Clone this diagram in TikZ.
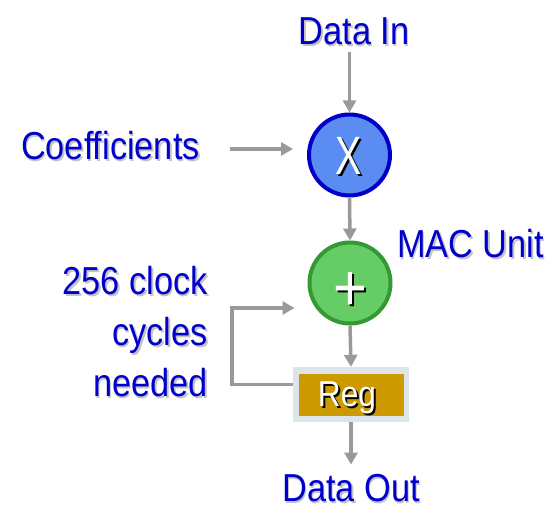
\documentclass[tikz,border=0pt]{standalone}
\usepackage{fontspec}
\setmainfont[FakeStretch=0.88]{Liberation Sans}
\usetikzlibrary{arrows.meta}
\definecolor{txtblue}{HTML}{0000CC}
\definecolor{shgray}{HTML}{C4C4C4}
\definecolor{arrgray}{HTML}{9A9A9A}
\definecolor{mulfill}{HTML}{5A8CF2}
\definecolor{mulline}{HTML}{0000C8}
\definecolor{addfill}{HTML}{66CC66}
\definecolor{addline}{HTML}{339933}
\definecolor{regout}{HTML}{DCE6EA}
\definecolor{reggold}{HTML}{CC9900}
\newcommand\stxt[4]{%
  \node[#1, text=shgray] at ([shift={(1.5pt,-1.5pt)}]#3) {#4};
  \node[#1, text=txtblue] (#2) at (#3) {#4};}
\newcommand\wtxt[4]{%
  \node[#1, text=black] at ([shift={(2pt,-2pt)}]#3) {#4};
  \node[#1, text=white] (#2) at (#3) {#4};}
\tikzset{
  lbl/.style={inner sep=0pt, font=\fontsize{39}{51}\selectfont},
  arr/.style={draw=arrgray, line width=3.5pt, line join=miter,
    -{Triangle[width=13pt,length=12pt]}},
  opcircle/.style={circle, minimum size=81pt, inner sep=0pt, line width=4pt},
}
\begin{document}
\begin{tikzpicture}[x=1pt,y=-1pt]
\useasboundingbox (0,0) rectangle (552,510);
% labels
\stxt{lbl, anchor=base}{din}{354,45}{Data In}
\stxt{lbl, anchor=base east}{coef}{200,160}{Coefficients}
\stxt{lbl, anchor=base west}{mac}{397,258}{MAC Unit}
\stxt{lbl, anchor=base east}{cyca}{208,295}{256 clock}
\stxt{lbl, anchor=base east}{cycb}{208,346}{cycles}
\stxt{lbl, anchor=base east}{cycc}{208,397}{needed}
\stxt{lbl, anchor=base}{dout}{351,502}{Data Out}
% operators
\node[opcircle, draw=mulline, fill=mulfill] (mul) at (349.5,155) {};
\node[opcircle, draw=addline, fill=addfill] (add) at (350,283) {};
\wtxt{inner sep=0pt, font=\fontsize{54}{54}\selectfont}{mulx}{349,156}{\scalebox{0.83}[1]{X}}
\wtxt{inner sep=0pt, font=\fontsize{66}{66}\selectfont}{addp}{350,291}{+}
% register
\node[fill=regout, minimum width=116pt, minimum height=55pt, inner sep=0pt] (reg) at (351,394.5) {};
\node[fill=reggold, minimum width=105pt, minimum height=42pt, inner sep=0pt] (regin) at (351.5,395) {};
\wtxt{inner sep=0pt, font=\fontsize{36}{36}\selectfont}{regt}{347,398}{Reg}
% connectors
\draw[arr, shorten <=6pt] (din.south -| mul.north) -- (mul.north);
\draw[arr, shorten <=30pt, shorten >=14pt] ([yshift=6pt]mul.west -| coef.east) -- ([yshift=6pt]mul.west);
\draw[arr] (mul.south) -- (add.north);
\draw[arr] (add.south) -- (reg.north);
\draw[arr] ([yshift=10pt]reg.west) -- ++(-61,0) |- ([shift={(-13pt,-25pt)}]add.west);
\draw[arr, shorten >=10pt] (reg.south) -- (reg.south |- dout.north);
\end{tikzpicture}
\end{document}
